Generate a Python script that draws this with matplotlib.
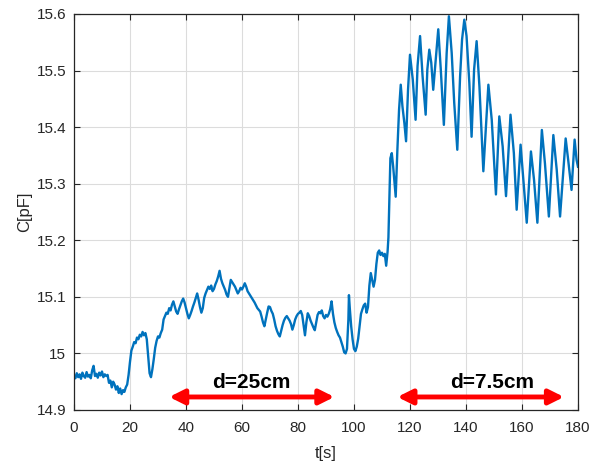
import matplotlib
matplotlib.use("Agg")
import matplotlib.pyplot as plt

# time [s]
t = [0.0, 0.5, 1.0, 1.5, 2.0, 2.5, 3.0, 3.5, 4.0, 4.5, 5.0, 5.5, 6.0, 6.5, 7.0, 7.5, 8.0, 8.5, 9.0, 9.5,
     10.0, 10.5, 11.0, 11.5, 12.0, 12.5, 13.0, 13.5, 14.0, 14.5, 15.0, 15.5, 16.0, 16.5, 17.0, 17.5, 18.0, 18.5, 19.0, 19.5,
     20.0, 20.5, 21.0, 21.5, 22.0, 22.5, 23.0, 23.5, 24.0, 24.5, 25.0, 25.5, 26.0, 26.5, 27.0, 27.5, 28.0, 28.5, 29.0, 29.5,
     30.0, 30.5, 31.0, 31.5, 32.0, 32.5, 33.0, 33.5, 34.0, 34.5, 35.0, 35.5, 36.0, 36.5, 37.0, 37.5, 38.0, 38.5, 39.0, 39.5,
     40.0, 40.5, 41.0, 41.5, 42.0, 42.5, 43.0, 43.5, 44.0, 44.5, 45.0, 45.5, 46.0, 46.5, 47.0, 47.5, 48.0, 48.5, 49.0, 49.5,
     50.0, 50.5, 51.0, 51.5, 52.0, 52.5, 53.0, 53.5, 54.0, 54.5, 55.0, 55.5, 56.0, 56.5, 57.0, 57.5, 58.0, 58.5, 59.0, 59.5,
     60.0, 60.5, 61.0, 61.5, 62.0, 62.5, 63.0, 63.5, 64.0, 64.5, 65.0, 65.5, 66.0, 66.5, 67.0, 67.5, 68.0, 68.5, 69.0, 69.5,
     70.0, 70.5, 71.0, 71.5, 72.0, 72.5, 73.0, 73.5, 74.0, 74.5, 75.0, 75.5, 76.0, 76.5, 77.0, 77.5, 78.0, 78.5, 79.0, 79.5,
     80.0, 80.5, 81.0, 81.5, 82.0, 82.5, 83.0, 83.5, 84.0, 84.5, 85.0, 85.5, 86.0, 86.5, 87.0, 87.5, 88.0, 88.5, 89.0, 89.5,
     90.0, 90.5, 91.0, 91.5, 92.0, 92.5, 93.0, 93.5, 94.0, 94.5, 95.0, 95.5, 96.0, 96.5, 97.0, 97.5, 98.0, 98.2, 98.5, 99.0,
     99.5, 100.0, 100.5, 101.0, 101.5, 102.0, 102.5, 103.0, 103.5, 104.0, 104.5, 105.0, 105.5, 106.0, 106.5, 107.0, 107.5,
     108.0, 108.5, 109.0, 109.5, 110.0, 110.5, 111.0, 111.5, 112.0, 112.3, 112.6, 113.0, 113.5, 114.0, 114.5, 114.9,
     115.5, 116.1, 116.7, 117.3, 118.0, 118.6, 119.3, 120.0, 121.0, 122.0, 122.7, 123.6, 124.5, 125.6, 126.2, 126.9,
     127.6, 128.3, 129.2, 130.1, 131.0, 132.1, 133.1, 133.9, 134.9, 135.8, 136.9, 137.9, 138.6, 139.4, 140.2, 141.2,
     142.0, 142.9, 143.8, 144.8, 146.2, 148.0, 149.2, 150.7, 151.9, 153.1, 154.3, 155.9, 157.1, 158.1, 159.5, 160.5,
     161.7, 163.2, 164.3, 165.5, 167.1, 168.2, 169.6, 171.2, 172.4, 173.6, 175.6, 176.5, 177.7, 178.8, 179.5, 180.0]

# capacitance [pF]
c = [14.962, 14.956, 14.965, 14.958, 14.963, 14.955, 14.966, 14.960, 14.957, 14.967, 14.959, 14.962, 14.956, 14.970, 14.978, 14.960, 14.964, 14.957, 14.966, 14.961,
     14.968, 14.958, 14.963, 14.960, 14.962, 14.948, 14.952, 14.940, 14.950, 14.945, 14.936, 14.942, 14.930, 14.938, 14.928, 14.935, 14.932, 14.940, 14.945, 14.962,
     14.985, 15.005, 15.012, 15.020, 15.018, 15.028, 15.025, 15.033, 15.030, 15.038, 15.032, 15.036, 15.025, 14.995, 14.965, 14.958, 14.972, 14.990, 15.010, 15.022,
     15.030, 15.028, 15.036, 15.042, 15.060, 15.066, 15.072, 15.070, 15.080, 15.076, 15.086, 15.092, 15.083, 15.074, 15.070, 15.078, 15.085, 15.092, 15.097, 15.090,
     15.080, 15.070, 15.062, 15.068, 15.075, 15.083, 15.090, 15.098, 15.106, 15.095, 15.082, 15.072, 15.080, 15.098, 15.106, 15.112, 15.118, 15.114, 15.120, 15.110,
     15.114, 15.122, 15.128, 15.136, 15.146, 15.132, 15.124, 15.118, 15.112, 15.104, 15.100, 15.115, 15.130, 15.126, 15.122, 15.118, 15.112, 15.106, 15.110, 15.116,
     15.113, 15.118, 15.124, 15.118, 15.110, 15.106, 15.102, 15.098, 15.094, 15.090, 15.085, 15.080, 15.077, 15.074, 15.065, 15.055, 15.048, 15.060, 15.072, 15.083,
     15.082, 15.075, 15.070, 15.060, 15.048, 15.040, 15.034, 15.030, 15.040, 15.050, 15.058, 15.063, 15.066, 15.062, 15.058, 15.052, 15.042, 15.050, 15.060, 15.066,
     15.070, 15.072, 15.075, 15.068, 15.050, 15.032, 15.055, 15.071, 15.066, 15.058, 15.052, 15.046, 15.041, 15.055, 15.068, 15.073, 15.071, 15.076, 15.066, 15.062,
     15.068, 15.065, 15.070, 15.078, 15.092, 15.070, 15.055, 15.045, 15.038, 15.032, 15.028, 15.020, 15.012, 15.002, 15.000, 15.008, 15.060, 15.103, 15.080, 15.048,
     15.025, 15.008, 15.004, 15.012, 15.026, 15.048, 15.070, 15.078, 15.085, 15.088, 15.072, 15.082, 15.120, 15.142, 15.130, 15.118, 15.130,
     15.158, 15.178, 15.182, 15.174, 15.178, 15.172, 15.176, 15.155, 15.180, 15.205, 15.265, 15.345, 15.354, 15.330, 15.300, 15.277,
     15.360, 15.431, 15.475, 15.437, 15.407, 15.375, 15.466, 15.528, 15.484, 15.413, 15.508, 15.561, 15.490, 15.422, 15.502, 15.537,
     15.514, 15.466, 15.520, 15.573, 15.502, 15.404, 15.531, 15.596, 15.531, 15.443, 15.360, 15.490, 15.555, 15.590, 15.561, 15.478,
     15.383, 15.502, 15.552, 15.472, 15.322, 15.475, 15.413, 15.281, 15.419, 15.366, 15.278, 15.422, 15.354, 15.254, 15.369, 15.307,
     15.231, 15.357, 15.307, 15.231, 15.395, 15.336, 15.242, 15.386, 15.325, 15.242, 15.380, 15.342, 15.289, 15.378, 15.342, 15.330]

x_ticks = [0, 20, 40, 60, 80, 100, 120, 140, 160, 180]
y_ticks = [14.9, 15.0, 15.1, 15.2, 15.3, 15.4, 15.5, 15.6]
y_tick_labels = ["14.9", "15", "15.1", "15.2", "15.3", "15.4", "15.5", "15.6"]
arrow_labels = ["d=25cm", "d=7.5cm"]
arrow_spans = [(34.0, 93.0), (115.5, 175.0)]
arrow_text_x = [63.5, 149.5]

plt.rcParams['font.family'] = ['Liberation Sans', 'DejaVu Sans']

fig = plt.figure(figsize=(6.01, 4.62), dpi=100)
ax = fig.add_axes([0.1231, 0.1126, 0.8386, 0.8571])

axcol = '#262626'
ax.plot(t, c, color='#0072BD', lw=1.7)

ax.set_xlim(0, 180)
ax.set_ylim(14.9, 15.6)
ax.set_xticks(x_ticks)
ax.set_yticks(y_ticks)
ax.set_yticklabels(y_tick_labels)
ax.grid(True, color='#dcdcdc', lw=0.8)
ax.set_axisbelow(True)
ax.tick_params(direction='in', top=True, right=True, labelsize=11, colors=axcol, length=4)
ax.tick_params(axis='x', pad=8)
ax.tick_params(axis='y', pad=5.5)
for s in ax.spines.values():
    s.set_color(axcol)
    s.set_linewidth(0.9)

ax.set_xlabel('t[s]', fontsize=12, color=axcol, labelpad=8)
ax.set_ylabel('C[pF]', fontsize=12, color=axcol, labelpad=3)

for (x0, x1), lab, tx in zip(arrow_spans, arrow_labels, arrow_text_x):
    ax.annotate('', xy=(x0, 14.923), xytext=(x1, 14.923),
                arrowprops=dict(arrowstyle='<|-|>', color='red', lw=3.5,
                                mutation_scale=22, shrinkA=0, shrinkB=0))
    ax.text(tx, 14.949, lab, ha='center', va='center', fontsize=15,
            fontweight='bold', color='black')

fig.savefig('out.png', dpi=100)
